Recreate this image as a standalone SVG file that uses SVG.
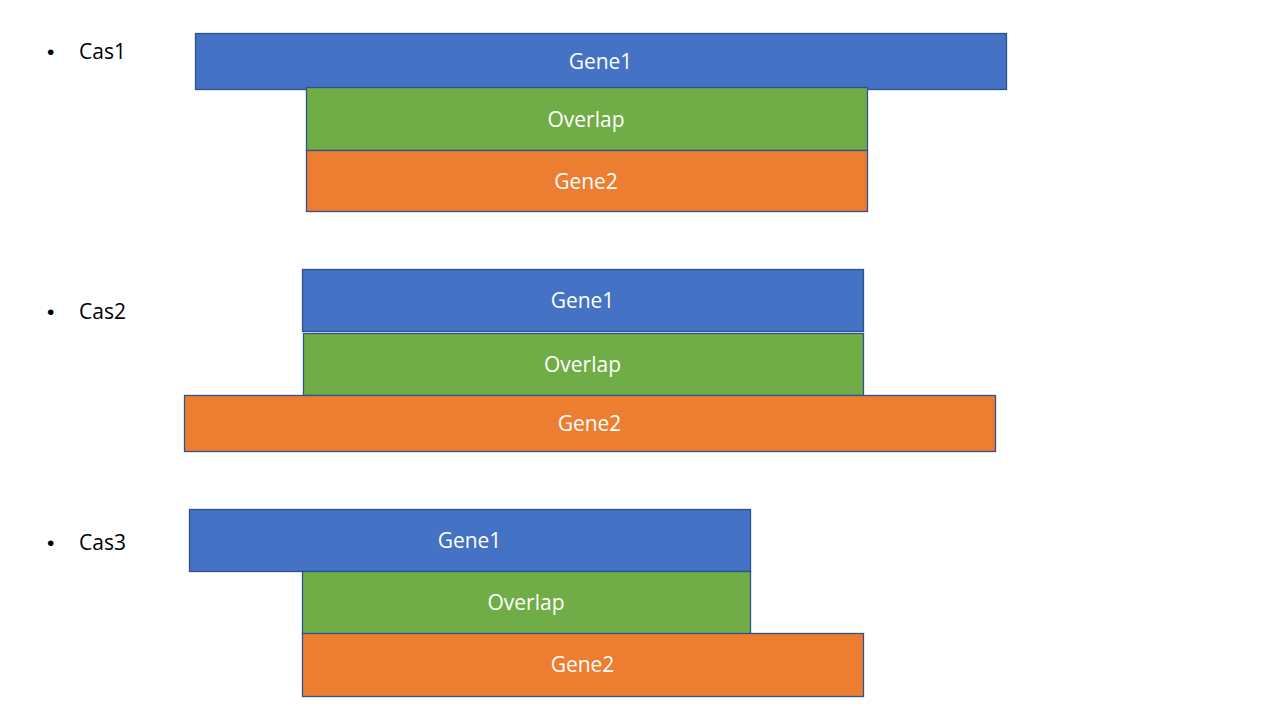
<svg xmlns="http://www.w3.org/2000/svg" width="1280" height="720" viewBox="0 0 1280 720">
<style>
.b{fill:#4472C4;stroke:#2F528F;stroke-width:1.3}
.g{fill:#70AD47;stroke:#2F528F;stroke-width:1.3}
.o{fill:#ED7D31;stroke:#2F528F;stroke-width:1.3}
.t{fill:#FFFFFF;font-family:"Open Sans","Liberation Sans",sans-serif;font-size:21px;text-anchor:middle;dominant-baseline:central}
.l{fill:#000000;font-family:"Open Sans","Liberation Sans",sans-serif;font-size:21px}
.d{fill:#000000;font-family:"Liberation Sans",sans-serif;font-size:21px}
</style>
<rect width="1280" height="720" fill="#FFFFFF"/>
<g id="labels">
<text class="d" x="47" y="59">•</text><text class="l" x="79" y="59">Cas1</text>
<text class="d" x="47" y="319">•</text><text class="l" x="79" y="319">Cas2</text>
<text class="d" x="47" y="550">•</text><text class="l" x="79" y="550">Cas3</text>
</g>
<g id="cas1">
<g id="cas1-gene1"><rect class="b" x="195.5" y="33.5" width="811" height="56"/><text class="t" x="600.5" y="61">Gene1</text></g>
<g id="cas1-overlap"><rect class="g" x="306.5" y="87.5" width="561" height="63"/><text class="t" x="586" y="118.5">Overlap</text></g>
<g id="cas1-gene2"><rect class="o" x="306.5" y="150.5" width="561" height="61"/><text class="t" x="586" y="180.5">Gene2</text></g>
</g>
<g id="cas2">
<g id="cas2-gene1"><rect class="b" x="302.5" y="269.5" width="561" height="62"/><text class="t" x="582.5" y="300">Gene1</text></g>
<g id="cas2-overlap"><rect class="g" x="303.5" y="333.5" width="560" height="62"/><text class="t" x="582.5" y="364">Overlap</text></g>
<g id="cas2-gene2"><rect class="o" x="184.5" y="395.5" width="811" height="56"/><text class="t" x="589.5" y="423">Gene2</text></g>
</g>
<g id="cas3">
<g id="cas3-gene1"><rect class="b" x="189.5" y="509.5" width="561" height="62"/><text class="t" x="469.5" y="540">Gene1</text></g>
<g id="cas3-overlap"><rect class="g" x="302.5" y="571.5" width="448" height="63"/><text class="t" x="526" y="602">Overlap</text></g>
<g id="cas3-gene2"><rect class="o" x="302.5" y="633.5" width="561" height="63"/><text class="t" x="582.5" y="664">Gene2</text></g>
</g>
<g id="connectors"></g>
</svg>
